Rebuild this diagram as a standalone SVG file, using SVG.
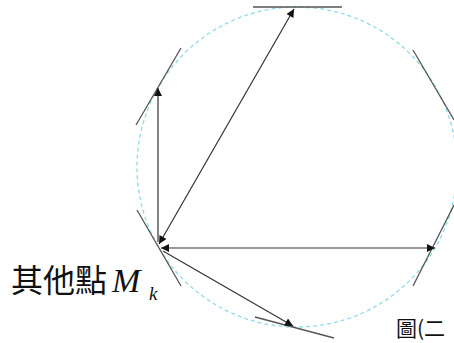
<svg xmlns="http://www.w3.org/2000/svg" width="454" height="343" viewBox="0 0 454 343">
<defs>
<style>
.ln{stroke:#333;stroke-width:1.2;fill:none}
.tg{stroke:#555;stroke-width:1.3;fill:none}
.cir{stroke:#8fdbe8;stroke-width:1.3;fill:none;stroke-dasharray:4 3}
.cjk{font-family:"Noto Sans CJK TC","Noto Sans CJK SC",sans-serif;fill:#111}
.m{font-family:"Liberation Serif",serif;font-style:italic;fill:#111}
</style>
<marker id="ah" viewBox="0 0 10 10" refX="10" refY="5" markerWidth="10" markerHeight="8" markerUnits="userSpaceOnUse" orient="auto-start-reverse">
<path d="M0,0 L10,5 L0,10 Z" fill="#111"/>
</marker>
</defs>
<rect width="454" height="343" fill="#fff"/>
<g id="circle">
<circle class="cir" cx="297" cy="167" r="160"/>
</g>
<g id="tangents">
<line class="tg" x1="253" y1="7" x2="342" y2="7"/>
<line class="tg" x1="181" y1="48" x2="136" y2="125"/>
<line class="tg" x1="413" y1="50" x2="454" y2="120"/>
<line class="tg" x1="137" y1="210" x2="181" y2="286"/>
<line class="tg" x1="454" y1="205" x2="413" y2="286"/>
<line class="tg" x1="255" y1="317" x2="334" y2="338"/>
</g>
<g id="connectors">
<line class="ln" x1="158" y1="242" x2="158" y2="88" marker-end="url(#ah)"/>
<line class="ln" x1="159" y1="244" x2="294" y2="9" marker-start="url(#ah)" marker-end="url(#ah)"/>
<line class="ln" x1="161" y1="248" x2="435" y2="248" marker-start="url(#ah)" marker-end="url(#ah)"/>
<line class="ln" x1="163" y1="251" x2="293" y2="326" marker-end="url(#ah)"/>
</g>
<g id="label-mk">
<text class="cjk" x="11" y="292" font-size="32">其他點</text>
<text class="m" x="112" y="292" font-size="34">M</text>
<text class="m" x="149" y="300" font-size="19">k</text>
</g>
<g id="caption">
<text class="cjk" x="396" y="336" font-size="21">圖(二</text>
</g>
</svg>
